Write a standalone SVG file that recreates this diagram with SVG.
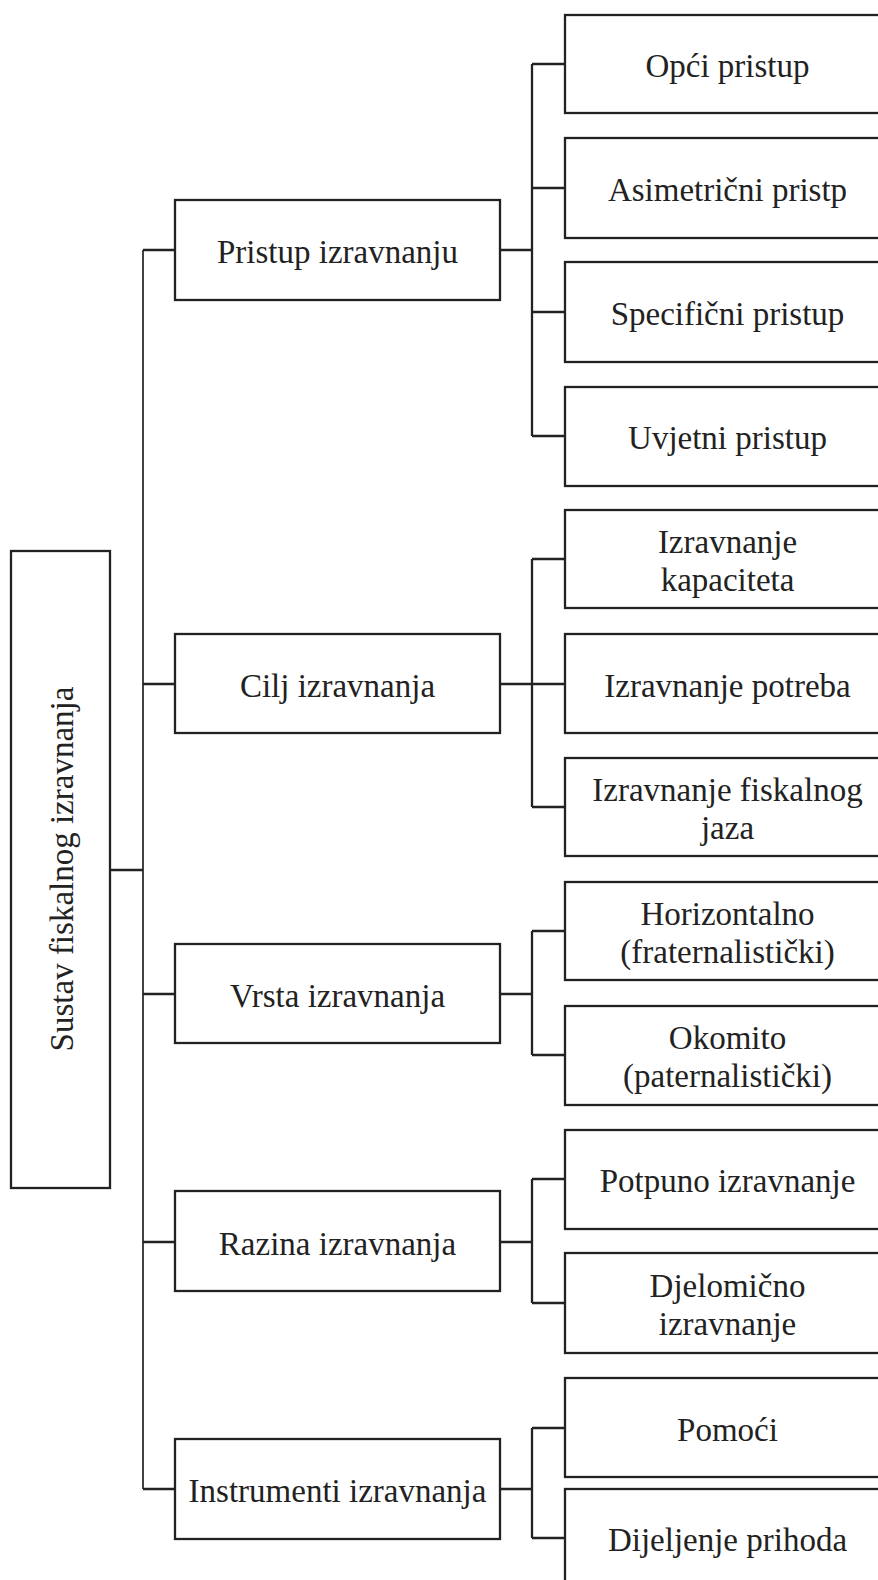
<svg xmlns="http://www.w3.org/2000/svg" width="878" height="1580" viewBox="0 0 878 1580">
<style>
rect{fill:#fff;stroke:#222;stroke-width:2.3}
text{font-family:"Liberation Serif","Times New Roman",serif;font-size:33px;fill:#222;text-anchor:middle}
.c path{fill:none;stroke:#222;stroke-width:2.3}
.c .t{stroke-width:1.7}
</style>
<rect x="0" y="0" width="878" height="1580" style="stroke:none"/>
<g class="c" id="connectors">
<path class="t" d="M143 250V1489"/>
<path d="M110 870H143"/>
<path d="M143 250H175M143 684H175M143 994H175M143 1242H175M143 1489H175"/>
<path d="M500 250H532M532 64V436M532 64H565M532 188H565M532 312H565M532 436H565"/>
<path d="M500 684H532M532 559V807M532 559H565M532 684H565M532 807H565"/>
<path d="M500 994H532M532 931V1055M532 931H565M532 1055H565"/>
<path d="M500 1242H532M532 1179V1303M532 1179H565M532 1303H565"/>
<path d="M500 1489H532M532 1428V1538M532 1428H565M532 1538H565"/>
</g>
<g id="root"><rect x="11" y="551" width="99" height="637"/><text transform="translate(73,869) rotate(-90)">Sustav fiskalnog izravnanja</text></g>
<g id="m1"><rect x="175" y="200" width="325" height="100"/><text x="337.5" y="262.5">Pristup izravnanju</text></g>
<g id="m2"><rect x="175" y="634" width="325" height="99"/><text x="337.5" y="696.5">Cilj izravnanja</text></g>
<g id="m3"><rect x="175" y="944" width="325" height="99"/><text x="337.5" y="1006.5">Vrsta izravnanja</text></g>
<g id="m4"><rect x="175" y="1191" width="325" height="100"/><text x="337.5" y="1254.5">Razina izravnanja</text></g>
<g id="m5"><rect x="175" y="1439" width="325" height="100"/><text x="337.5" y="1501.5">Instrumenti izravnanja</text></g>
<g id="r1"><rect x="565" y="15" width="325" height="98"/><text x="727.5" y="77">Opći pristup</text></g>
<g id="r2"><rect x="565" y="138" width="325" height="100"/><text x="727.5" y="201">Asimetrični pristp</text></g>
<g id="r3"><rect x="565" y="262" width="325" height="100"/><text x="727.5" y="325">Specifični pristup</text></g>
<g id="r4"><rect x="565" y="387" width="325" height="99"/><text x="727.5" y="449">Uvjetni pristup</text></g>
<g id="r5"><rect x="565" y="510" width="325" height="98"/><text x="727.5" y="553">Izravnanje</text><text x="727.5" y="590.5">kapaciteta</text></g>
<g id="r6"><rect x="565" y="634" width="325" height="99"/><text x="727.5" y="696.5">Izravnanje potreba</text></g>
<g id="r7"><rect x="565" y="758" width="325" height="98"/><text x="727.5" y="801">Izravnanje fiskalnog</text><text x="727.5" y="838.5">jaza</text></g>
<g id="r8"><rect x="565" y="882" width="325" height="98"/><text x="727.5" y="925">Horizontalno</text><text x="727.5" y="962.5">(fraternalistički)</text></g>
<g id="r9"><rect x="565" y="1006" width="325" height="99"/><text x="727.5" y="1049">Okomito</text><text x="727.5" y="1086.5">(paternalistički)</text></g>
<g id="r10"><rect x="565" y="1130" width="325" height="99"/><text x="727.5" y="1192">Potpuno izravnanje</text></g>
<g id="r11"><rect x="565" y="1253" width="325" height="100"/><text x="727.5" y="1297">Djelomično</text><text x="727.5" y="1334.5">izravnanje</text></g>
<g id="r12"><rect x="565" y="1378" width="325" height="99"/><text x="727.5" y="1441">Pomoći</text></g>
<g id="r13"><rect x="565" y="1489" width="325" height="100"/><text x="727.5" y="1551">Dijeljenje prihoda</text></g>
</svg>
